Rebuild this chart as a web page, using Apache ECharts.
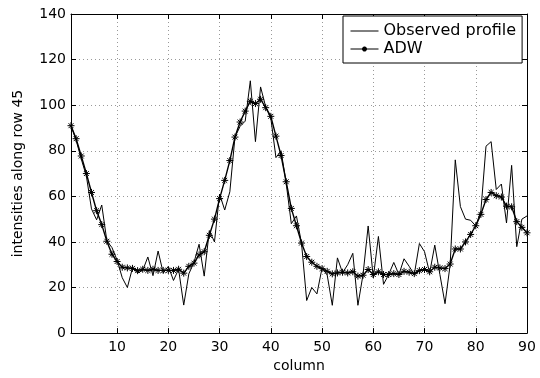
<!DOCTYPE html>
<html>
<head>
<meta charset="utf-8">
<script src="https://cdn.jsdelivr.net/npm/echarts@6/dist/echarts.min.js"></script>
<style>html,body{margin:0;padding:0;background:#fff}#chart{width:540px;height:378px}</style>
</head>
<body>
<div id="chart"></div>
<script>
// Column index runs 1..90
const observed = [
  91, 84.6, 76.4, 68.9, 54.5, 49.7, 56.2, 40.5, 37.5, 32,
  24.3, 20, 28.6, 26.4, 27.5, 33.4, 25.2, 36, 26.4, 29.3,
  23.1, 28, 12.3, 26, 31, 39, 25, 45, 40, 61,
  54, 62, 86, 90.7, 93, 110.7, 84, 108, 99.3, 94.3,
  77, 80, 65.7, 48, 51.4, 39.3, 14.3, 20, 17.2, 28.6,
  25.5, 12.2, 33, 26.5, 30, 35, 12.2, 25.7, 47, 24.3,
  42.4, 21.4, 25.7, 31, 25.7, 32.6, 29.3, 25.7, 39.3, 35.7,
  26.4, 38.6, 25.7, 12.9, 30, 76, 55.5, 50, 49.5, 47,
  53.6, 82, 84, 63, 65.4, 48.3, 73.6, 37.9, 50, 51.4
];
const adw = [
  91, 85.3, 77.7, 70, 61.7, 53.7, 47.6, 40.3, 34.6, 31.4,
  28.9, 28.6, 28.4, 27.4, 28, 27.5, 28, 27.5, 27.5, 27.5,
  27.5, 28, 26.3, 29.3, 30.7, 34.3, 35.7, 42.9, 50, 59,
  67, 75.7, 86, 92.6, 97.4, 101.7, 100.7, 102.6, 98.9, 95.1,
  86.4, 77.9, 66.4, 54.7, 47.1, 39.5, 33.6, 31.1, 29.3, 28.3,
  27.1, 26, 26.4, 26.7, 26.4, 26.9, 25, 25.4, 27.9, 25.7,
  26.9, 25.7, 25.7, 26.1, 25.7, 27.1, 26.7, 26.1, 27.4, 27.9,
  26.9, 28.9, 28.6, 28.3, 30.3, 36.9, 36.9, 40, 43.3, 47.1,
  52.1, 58.6, 61.7, 60.3, 59.7, 55.7, 55.4, 48.9, 46.4, 44
];
const xTicks = [10, 20, 30, 40, 50, 60, 70, 80, 90];
const yTicks = [0, 20, 40, 60, 80, 100, 120, 140];
const seriesNames = ['Observed profile', 'ADW'];
const xTitle = 'column';
const yTitle = 'intensities along row 45';

const toPairs = arr => arr.map((v, i) => [i + 1, v]);
const FONT = 'DejaVu Sans';
const star = 'path://M0,5L10,5M5,0L5,10M1.5,1.5L8.5,8.5M1.5,8.5L8.5,1.5';

const chart = echarts.init(document.getElementById('chart'), null, {renderer: 'canvas'});
const splitDot = {show: true, lineStyle: {color: '#999', width: 1, type: [1, 3]}};
chart.setOption({
  animation: false,
  backgroundColor: '#fff',
  textStyle: {fontFamily: FONT},
  grid: {left: 71, right: 13, top: 14, bottom: 38, containLabel: false},
  legend: {
    left: 343, top: 16, orient: 'vertical',
    padding: [7, 6, 6, 7], itemGap: 2, itemWidth: 28, itemHeight: 6,
    backgroundColor: '#fff', borderColor: '#000', borderWidth: 1, borderRadius: 0,
    lineStyle: {width: 1},
    textStyle: {fontFamily: FONT, fontSize: 16, color: '#000', lineHeight: 16},
    data: [
      {name: seriesNames[0], itemStyle: {color: 'rgba(0,0,0,0)', borderColor: 'rgba(0,0,0,0)', borderWidth: 0}},
      {name: seriesNames[1]}
    ]
  },
  xAxis: [{
    type: 'value', min: 1, max: 90, position: 'bottom',
    name: xTitle, nameLocation: 'middle', nameGap: 18,
    nameTextStyle: {fontFamily: FONT, fontSize: 14, color: '#000', verticalAlign: 'top'},
    axisLine: {show: true, lineStyle: {color: '#000', width: 1}},
    axisTick: {show: true, inside: true, length: 5, customValues: xTicks, lineStyle: {color: '#000'}},
    axisLabel: {show: true, customValues: xTicks, margin: 7, fontFamily: FONT, fontSize: 14, color: '#000'},
    splitLine: splitDot
  }, {
    type: 'value', min: 1, max: 90, position: 'top',
    axisLine: {show: true, onZero: false, lineStyle: {color: '#000', width: 1}},
    axisTick: {show: true, inside: true, length: 5, customValues: xTicks, lineStyle: {color: '#000'}},
    axisLabel: {show: false, customValues: xTicks},
    splitLine: {show: false}
  }],
  yAxis: [{
    type: 'value', min: 0, max: 140, interval: 20, position: 'left',
    name: yTitle, nameLocation: 'middle', nameGap: 46,
    nameTextStyle: {fontFamily: FONT, fontSize: 14, color: '#000'},
    axisLine: {show: true, lineStyle: {color: '#000', width: 1}},
    axisTick: {show: true, inside: true, length: 5, lineStyle: {color: '#000'}},
    axisLabel: {show: true, margin: 5, fontFamily: FONT, fontSize: 14, color: '#000'},
    splitLine: splitDot
  }, {
    type: 'value', min: 0, max: 140, interval: 20, position: 'right',
    axisLine: {show: true, onZero: false, lineStyle: {color: '#000', width: 1}},
    axisTick: {show: true, inside: true, length: 5, lineStyle: {color: '#000'}},
    axisLabel: {show: false},
    splitLine: {show: false}
  }],
  series: [{
    name: seriesNames[0], type: 'line', data: toPairs(observed),
    showSymbol: false, symbol: 'none',
    lineStyle: {color: '#000', width: 1}, itemStyle: {color: '#000'}
  }, {
    name: seriesNames[1], type: 'line', data: toPairs(adw),
    symbol: star, symbolSize: 7, showSymbol: true,
    lineStyle: {color: '#000', width: 1.4},
    itemStyle: {color: '#000', borderColor: '#000', borderWidth: 1}
  }]
});
</script>
</body>
</html>
